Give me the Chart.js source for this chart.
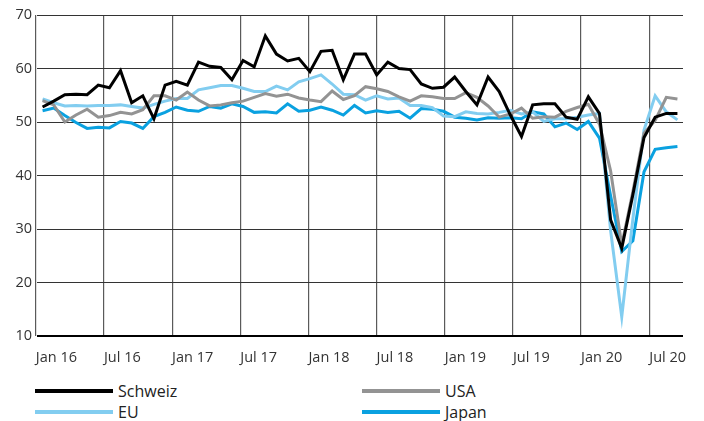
<!DOCTYPE html>
<html>
<head>
<meta charset="utf-8">
<script src="https://cdn.jsdelivr.net/npm/chart.js@4.4.1/dist/chart.umd.min.js"></script>
<style>
  html, body { margin: 0; padding: 0; background: #fff; }
  #wrap { position: relative; width: 704px; height: 421px; font-family: "Open Sans", sans-serif; }
  #box { position: absolute; left: 0; top: 0; width: 704px; height: 380px; }
  .leg { position: absolute; height: 22px; display: flex; align-items: center; font-size: 16px; color: #222; white-space: nowrap; }
  .leg .line { display: inline-block; width: 78px; height: 4px; margin-right: 5px; }
</style>
</head>
<body>
<div id="wrap">
  <div id="box"><canvas id="chart"></canvas></div>
  <div id="legend"></div>
</div>
<script>
// Monatswerte Dez 2015 - Sep 2020
const schweiz = [
  52.8, 53.9, 55.1, 55.2, 55.1, 56.9, 56.4, 59.6, 53.6, 54.9, 50.6, 56.9,
  57.6, 56.9, 61.2, 60.4, 60.2, 57.9, 61.5, 60.3, 66.1, 62.7, 61.4, 61.9,
  59.4, 63.2, 63.4, 57.9, 62.7, 62.7, 58.8, 61.2, 60.0, 59.8, 57.1, 56.3,
  56.5, 58.4, 55.7, 53.2, 58.4, 55.7, 51.3, 47.3, 53.2, 53.4, 53.4, 50.9,
  50.5, 54.7, 51.6, 31.7, 26.4, 36.4, 47.1, 50.9, 51.6, 51.6
];
const usa = [
  54.0, 53.2, 50.0, 51.3, 52.4, 50.9, 51.2, 51.8, 51.5, 52.3, 54.9, 54.9,
  54.1, 55.6, 54.1, 53.0, 53.2, 53.6, 53.9, 54.6, 55.3, 54.8, 55.2, 54.5,
  54.1, 53.8, 55.8, 54.2, 54.9, 56.6, 56.2, 55.7, 54.7, 53.9, 54.9, 54.7,
  54.4, 54.4, 55.5, 54.6, 53.0, 50.9, 51.5, 52.6, 50.7, 51.0, 50.9, 52.0,
  52.7, 53.3, 49.6, 40.9, 27.0, 37.0, 47.9, 50.3, 54.6, 54.3
];
const eu = [
  54.3, 53.6, 53.0, 53.1, 53.0, 53.1, 53.1, 53.2, 52.9, 52.6, 53.3, 53.9,
  54.4, 54.4, 56.0, 56.4, 56.8, 56.8, 56.3, 55.7, 55.7, 56.7, 56.0, 57.5,
  58.1, 58.8, 57.1, 55.2, 55.1, 54.1, 54.9, 54.3, 54.5, 53.1, 53.1, 52.7,
  51.1, 51.0, 51.9, 51.6, 51.5, 51.8, 52.2, 51.5, 51.9, 50.1, 50.6, 50.6,
  50.9, 51.3, 51.6, 29.7, 13.6, 31.9, 48.5, 54.9, 51.9, 50.4
];
const japan = [
  52.1, 52.6, 51.2, 49.9, 48.8, 49.0, 48.9, 50.1, 49.8, 48.8, 51.0, 51.8,
  52.8, 52.2, 52.0, 52.9, 52.6, 53.4, 52.9, 51.8, 51.9, 51.7, 53.4, 52.0,
  52.2, 52.8, 52.2, 51.3, 53.1, 51.7, 52.1, 51.8, 52.0, 50.7, 52.5, 52.4,
  52.0, 50.9, 50.7, 50.4, 50.8, 50.7, 50.8, 50.6, 51.9, 51.5, 49.1, 49.8,
  48.6, 50.1, 47.0, 36.2, 25.8, 27.8, 40.7, 44.9, 45.2, 45.4
];
const tickLabels = ["Jan 16", "Jul 16", "Jan 17", "Jul 17", "Jan 18", "Jul 18", "Jan 19", "Jul 19", "Jan 20", "Jul 20"];
const yTicks = [10, 20, 30, 40, 50, 60, 70];

const names = ["Schweiz", "USA", "EU", "Japan"];
const colors = ["#000000", "#939393", "#82cdf0", "#0aa1e0"];
const series = [schweiz, usa, eu, japan];

// Lage der Halbjahres-Gitterlinien auf der Monatsachse
const tickStart = -0.61;
const tickStep = 6.12;

Chart.defaults.font.family = "'Open Sans', sans-serif";
Chart.defaults.color = "#333";

const datasets = series.map((vals, s) => ({
  label: names[s],
  data: vals.map((v, i) => ({ x: i, y: v })),
  borderColor: colors[s],
  backgroundColor: colors[s],
  borderWidth: 3,
  pointRadius: 0,
  tension: 0,
  fill: false,
}));

new Chart(document.getElementById("chart"), {
  type: "line",
  data: { datasets: datasets },
  options: {
    responsive: true,
    maintainAspectRatio: false,
    animation: false,
    layout: { padding: { top: 15, right: 21, left: 0, bottom: 0 } },
    plugins: { legend: { display: false }, tooltip: { enabled: false } },
    scales: {
      x: {
        type: "linear",
        bounds: "data",
        min: -0.5,
        max: schweiz.length - 0.5,
        afterBuildTicks: (axis) => {
          axis.ticks = tickLabels.map((l, k) => ({ value: tickStart + k * tickStep }));
        },
        afterFit: (axis) => {
          axis.height = 44;
          axis.paddingLeft = 0;
          axis.paddingRight = 0;
        },
        grid: { color: "#5a5a5a", lineWidth: 1.2, drawTicks: false },
        border: { display: false },
        ticks: {
          autoSkip: false,
          maxRotation: 0,
          align: "start",
          padding: 13,
          font: { size: 14.5 },
          callback: (v, i) => tickLabels[i],
        },
      },
      y: {
        min: 10,
        max: 70,
        afterBuildTicks: (axis) => {
          axis.ticks = yTicks.map((v) => ({ value: v }));
        },
        afterFit: (axis) => {
          axis.width = 37;
        },
        grid: {
          drawTicks: false,
          color: (ctx) => (ctx.tick && ctx.tick.value === 10 ? "#000" : "#333"),
          lineWidth: (ctx) => (ctx.tick && ctx.tick.value === 10 ? 2 : 1),
        },
        border: { display: false },
        ticks: { padding: 5, font: { size: 14.5 } },
      },
    },
  },
});

// Legende in zwei Spalten
const legendPos = [[35, 380], [362, 380], [35, 401], [362, 401]];
const legend = document.getElementById("legend");
names.forEach((n, s) => {
  const item = document.createElement("div");
  item.className = "leg";
  item.style.left = legendPos[s][0] + "px";
  item.style.top = legendPos[s][1] + "px";
  item.innerHTML = '<span class="line" style="background:' + colors[s] + '"></span>' + n;
  legend.appendChild(item);
});
</script>
</body>
</html>
